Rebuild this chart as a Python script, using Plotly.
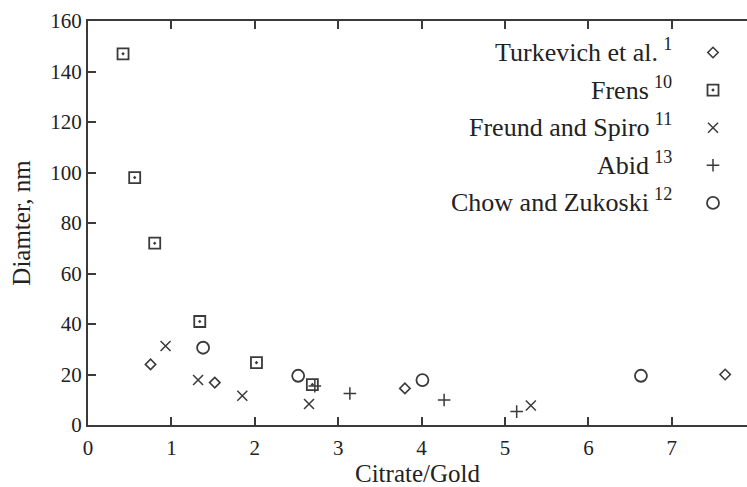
import plotly.graph_objects as go

# ---- data ----
turk_x = [0.75, 1.52, 3.80, 7.64]
turk_y = [24.0, 16.8, 14.5, 20.0]

frens_x = [0.42, 0.56, 0.80, 1.34, 2.02, 2.69]
frens_y = [147.0, 98.0, 72.0, 41.0, 24.7, 16.0]

freund_x = [0.93, 1.32, 1.85, 2.65, 5.31]
freund_y = [31.3, 17.8, 11.6, 8.3, 7.7]

abid_x = [2.72, 3.14, 4.27, 5.14]
abid_y = [15.4, 12.5, 9.9, 5.3]

chow_x = [1.38, 2.52, 4.01, 6.63]
chow_y = [30.6, 19.5, 17.8, 19.5]

series_names = ["Turkevich et al.", "Frens", "Freund and Spiro", "Abid", "Chow and Zukoski"]
series_refs = ["1", "10", "11", "13", "12"]

x_ticks = [0, 1, 2, 3, 4, 5, 6, 7]
y_ticks = [0, 20, 40, 60, 80, 100, 120, 140, 160]

W, H = 747, 487
L, R, T, B = 88, 0, 21, 62
FONT = "Liberation Serif, Times New Roman, serif"
INK = "#3a3a3a"

def px_x(p):
    return (p - L) / (W - L - R)

def px_y(p):
    return 1 - (p - T) / (H - T - B)

fig = go.Figure()
styles = [
    (turk_x, turk_y, dict(symbol="diamond-open", size=8, line=dict(width=1.6))),
    (frens_x, frens_y, dict(symbol="square-open-dot", size=11, line=dict(width=1.8))),
    (freund_x, freund_y, dict(symbol="x-thin-open", size=10, line=dict(width=1.5))),
    (abid_x, abid_y, dict(symbol="cross-thin-open", size=9, line=dict(width=1.5))),
    (chow_x, chow_y, dict(symbol="circle-open", size=12, line=dict(width=1.8))),
]
for i, (xs, ys, mk) in enumerate(styles):
    mk["color"] = INK
    mk["line"]["color"] = INK
    fig.add_trace(go.Scatter(
        x=xs, y=ys, mode="markers", marker=mk,
        name=" ", legendgroup=f"g{i}", hovertext=series_names[i],
        showlegend=True,
    ))

# legend labels (text sits left of the markers, right-aligned)
label_y = [51, 88, 125, 163, 201]
for name, ref, yy in zip(series_names, series_refs, label_y):
    fig.add_annotation(
        x=px_x(674), y=px_y(yy), xref="paper", yref="paper",
        xanchor="right", yanchor="middle", showarrow=False,
        text=f"{name}\u2009<sup>{ref}</sup>",
        font=dict(family=FONT, size=26, color="#222"),
    )

axis_common = dict(
    showline=True, linecolor=INK, linewidth=2,
    ticks="inside", ticklen=8, tickwidth=1.5, tickcolor=INK,
    showgrid=False, zeroline=False,
    tickfont=dict(family=FONT, size=21, color="#222"),
)
fig.update_xaxes(
    range=[0, (W - L - R) / 83.4], tickvals=x_ticks, mirror="ticks",
    ticklabelstandoff=3,
    title=dict(text="Citrate/Gold", font=dict(family=FONT, size=25, color="#222"), standoff=3),
    **axis_common,
)
fig.update_yaxes(
    range=[0, 160], tickvals=y_ticks, mirror=False,
    title=dict(text="Diamter, nm", font=dict(family=FONT, size=25, color="#222"), standoff=13),
    **axis_common,
)

fig.update_layout(
    width=W, height=H,
    margin=dict(l=L, r=R, t=T, b=B),
    paper_bgcolor="white", plot_bgcolor="white",
    showlegend=True,
    legend=dict(
        x=px_x(693), y=px_y(38), xanchor="left", yanchor="top",
        bgcolor="rgba(0,0,0,0)", font=dict(size=12),
        tracegroupgap=18.6, itemwidth=30,
    ),
)

fig.write_html(
    "out.html",
    config={"displayModeBar": False},
    post_script="document.body.style.margin='0';document.body.style.padding='0';",
)
